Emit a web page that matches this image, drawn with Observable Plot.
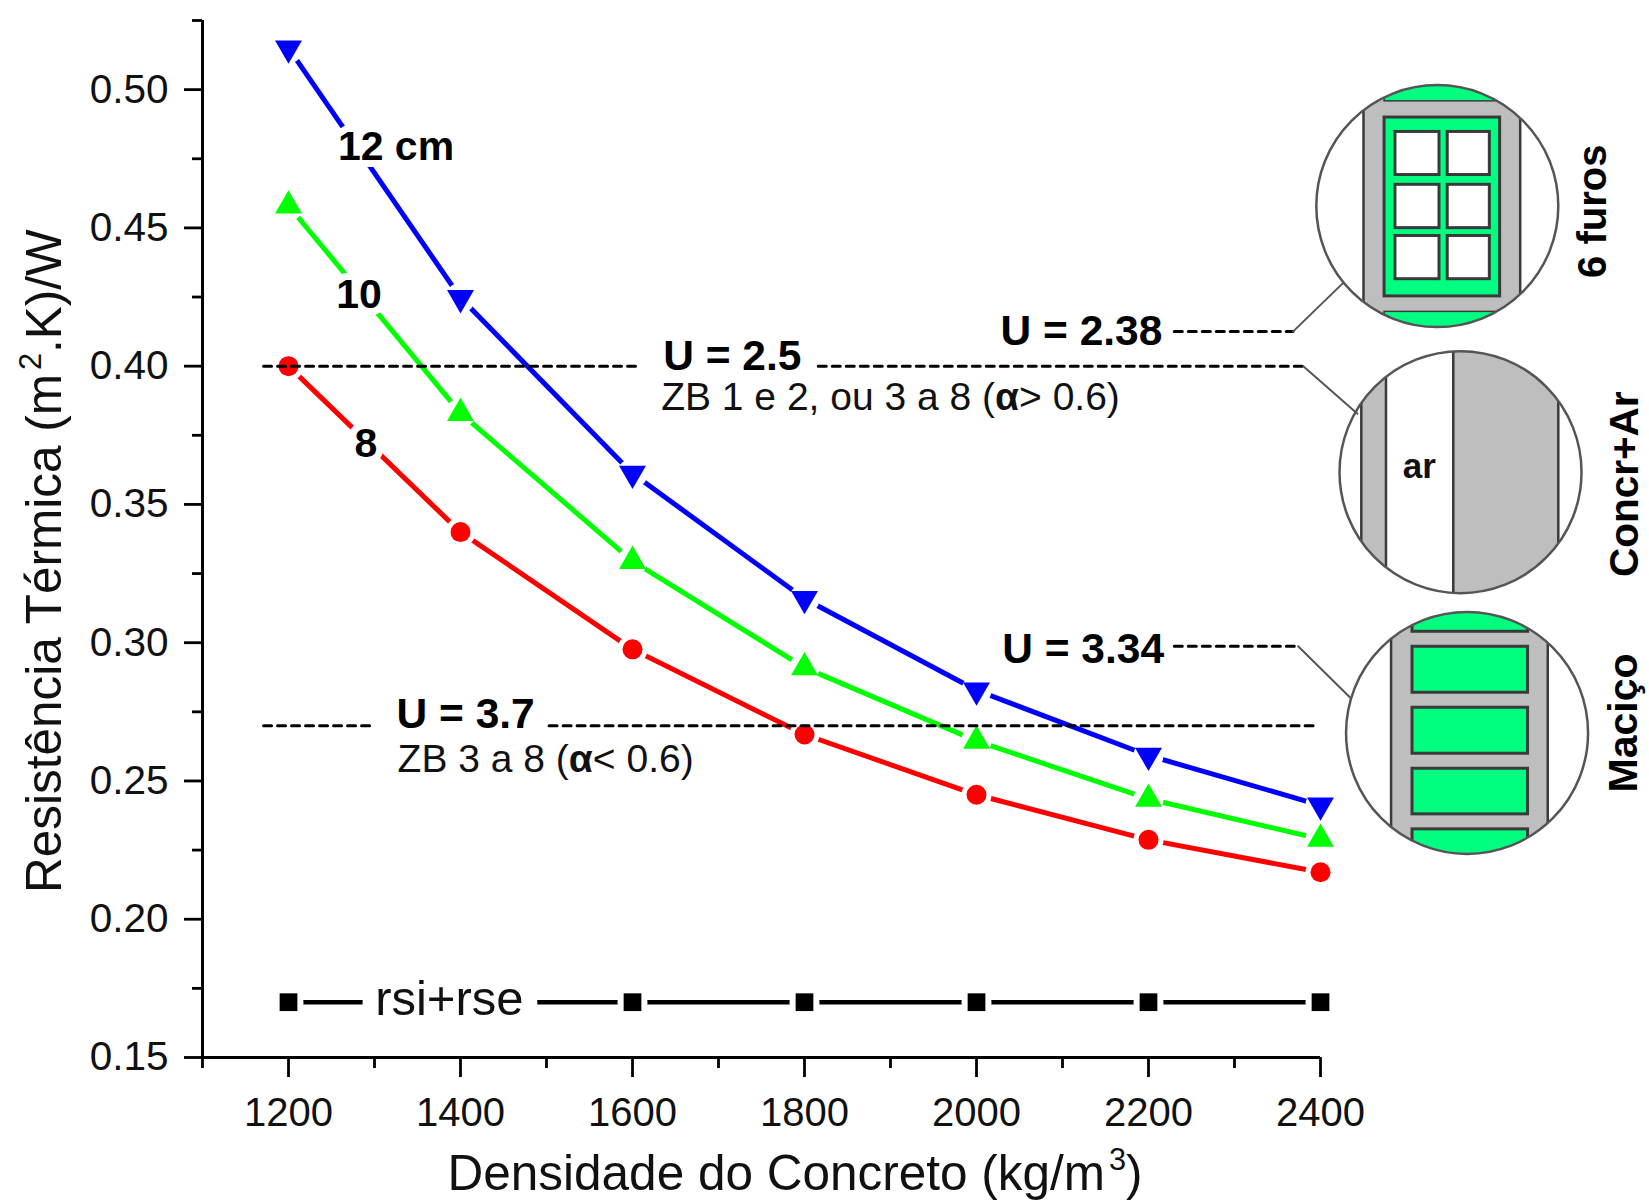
<!DOCTYPE html>
<html><head><meta charset="utf-8">
<script src="https://cdn.jsdelivr.net/npm/d3@7"></script>
<script src="https://cdn.jsdelivr.net/npm/@observablehq/plot@0.6"></script>
<style>html,body{margin:0;padding:0;background:#fff}svg{display:block}</style>
</head><body><div id="chart"></div>
<script>
const density = [1200,1400,1600,1800,2000,2200,2400];
const wall12 = [0.515,0.4247,0.3612,0.3159,0.2828,0.2592,0.2412];
const wall10 = [0.458,0.383,0.3295,0.291,0.2645,0.2435,0.229];
const wall8  = [0.400,0.340,0.2976,0.2668,0.245,0.2287,0.217];
const rsiDensity = [1200,1600,1800,2000,2200,2400];
const rsiValues  = [0.17,0.17,0.17,0.17,0.17,0.17];
const xMajor = [1200,1400,1600,1800,2000,2200,2400];
const xMinor = [1100,1300,1500,1700,1900,2100,2300];
const yMajor = [0.15,0.20,0.25,0.30,0.35,0.40,0.45,0.50];
const yMinor = [0.175,0.225,0.275,0.325,0.375,0.425,0.475,0.525];
const dashed = [
  [[1171,0.40],[1608,0.40]], [[1816,0.40],[2380,0.40]],
  [[1171,0.27],[1299,0.27]], [[1503,0.27],[2393,0.27]],
  [[2230,0.4125],[2368,0.4125]], [[2230,0.2987],[2374,0.2987]]
];
const leaders = [
  [[2368,0.4125],[2427,0.4303]], [[2380,0.40],[2443,0.3828]], [[2374,0.2987],[2435,0.28]]
];
const boldLabels = [
  {x:1325,y:0.4794,t:"12 cm"},{x:1282,y:0.4258,t:"10"},{x:1290,y:0.372,t:"8"}
];
const uLabels = [
  {x:1716,y:0.4037,t:"U = 2.5"},{x:1406,y:0.274,t:"U = 3.7"},
  {x:2122,y:0.4125,t:"U = 2.38"},{x:2124,y:0.2976,t:"U = 3.34"}
];
const zbLabels = [
  {x:1900,y:0.3885,t:"ZB 1 e 2, ou 3 a 8 (α> 0.6)"},
  {x:1499,y:0.2576,t:"ZB 3 a 8 (α< 0.6)"}
];
const sideLabels = [
  {x:2717,y:0.456,t:"6 furos",s:40},{x:2754,y:0.3573,t:"Concr+Ar",s:40.5},{x:2753,y:0.271,t:"Maciço",s:41}
];
const grey = "#bebebe", spring = "#00ff80", edge = "#3a3a3a";
const insets = [
  {id:"a",x:2536.4,y:0.4577,r:121},
  {id:"b",x:2563.4,y:0.3615,r:121},
  {id:"c",x:2571,y:0.2672,r:121}
];

const triDown = {draw(c,s){const y=Math.sqrt(s/(Math.sqrt(3)*3));c.moveTo(0,2*y);c.lineTo(-Math.sqrt(3)*y,-y);c.lineTo(Math.sqrt(3)*y,-y);c.closePath();}};
const rows = (xs,ys)=>xs.map((x,i)=>({x,y:ys[i]}));
const s12=rows(density,wall12), s10=rows(density,wall10), s8=rows(density,wall8), sRsi=rows(rsiDensity,rsiValues);
const pair = d=>d.map(([x,y])=>({x,y}));
const series=(data,color)=>[
  Plot.line(data,{x:"x",y:"y",stroke:color,strokeWidth:5}),
  Plot.dot(data,{x:"x",y:"y",r:15,fill:"white",stroke:null})
];
function drawInsets(index,{x,y}){
  const g=d3.create("svg:g");
  const rect=(s,x0,x1,y0,y1,fill,sw=2.5)=>s.append("rect").attr("x",x0).attr("width",x1-x0).attr("y",y0).attr("height",y1-y0).attr("fill",fill).attr("stroke",edge).attr("stroke-width",sw);
  for(const c of insets){
    const cx=x(c.x),cy=y(c.y),r=c.r;
    g.append("clipPath").attr("id","clip-"+c.id).append("circle").attr("cx",cx).attr("cy",cy).attr("r",r);
    const s=g.append("g").attr("clip-path",`url(#clip-${c.id})`);
    const X=f=>cx+f*r, Y=f=>cy+f*r;
    s.append("rect").attr("x",cx-r).attr("y",cy-r).attr("width",2*r).attr("height",2*r).attr("fill","white");
    if(c.id==="a"){
      rect(s,X(-.61),X(.685),Y(-1.05),Y(1.05),grey);
      rect(s,X(-.44),X(.5),Y(-1.05),Y(-.87),spring,1.5);
      rect(s,X(-.44),X(.5),Y(.87),Y(1.05),spring,1.5);
      rect(s,X(-.44),X(.515),Y(-.736),Y(.742),spring,3);
      for(const [a,b] of [[-.617,-.261],[-.18,.178],[.243,.6]])
        for(const [l,m] of [[-.35,.014],[.082,.43]]) rect(s,X(l),X(m),Y(a),Y(b),"white",3);
    } else if(c.id==="b"){
      rect(s,X(-.82),X(-.616),Y(-1.05),Y(1.05),grey);
      rect(s,X(-.06),X(.808),Y(-1.05),Y(1.05),grey);
      s.append("text").attr("x",X(-.34)).attr("y",Y(-.05)).attr("dy","0.35em").attr("text-anchor","middle")
        .attr("font-size",35).attr("font-weight","bold").attr("fill","#111").text("ar");
    } else {
      rect(s,X(-.628),X(.667),Y(-1.05),Y(1.05),grey);
      for(const [a,b] of [[-1.05,-.84],[-.716,-.336],[-.212,.168],[.292,.669],[.793,1.05]])
        rect(s,X(-.455),X(.5),Y(a),Y(b),spring,3);
    }
    g.append("circle").attr("cx",cx).attr("cy",cy).attr("r",r).attr("fill","none").attr("stroke","#555").attr("stroke-width",2.5);
  }
  return g.node();
}
const ink="#111";
const plot = Plot.plot({
  width:1649,height:1201,marginLeft:202,marginRight:329,marginTop:20,marginBottom:144,
  style:{fontFamily:"'Liberation Sans',Arial,sans-serif",background:"white",color:ink,overflow:"visible"},
  x:{domain:[1100,2400],axis:null},
  y:{domain:[0.15,0.525],axis:null},
  marks:[
    ...series(s8,"#ff0000"),
    ...series(s10,"#00ff00"),
    ...series(s12,"#0000ff"),
    Plot.line(sRsi,{x:"x",y:"y",stroke:"#000",strokeWidth:4.5}),
    Plot.dot(sRsi,{x:"x",y:"y",r:15,fill:"white",stroke:null}),
    Plot.dot(s8,{x:"x",y:"y",r:10,fill:"#ff0000",stroke:null}),
    Plot.dot(s10,{x:"x",y:"y",r:10,symbol:"triangle",fill:"#00ff00",stroke:null}),
    Plot.dot(s12,{x:"x",y:"y",r:10,symbol:triDown,fill:"#0000ff",stroke:null}),
    Plot.dot(sRsi,{x:"x",y:"y",r:10,symbol:"square",fill:"#000",stroke:null}),
    Plot.text(["rsi+rse"],{x:[1387],y:[0.171],text:d=>d,fontSize:49,fill:ink,stroke:"white",strokeWidth:32}),
    Plot.text(boldLabels,{x:"x",y:"y",text:"t",fontSize:41,fontWeight:"bold",fill:"#000",stroke:"white",strokeWidth:14}),
    ...dashed.map(d=>Plot.line(pair(d),{x:"x",y:"y",stroke:"#000",strokeWidth:3,strokeDasharray:"8 6"})),
    drawInsets,
    ...leaders.map(d=>Plot.line(pair(d),{x:"x",y:"y",stroke:"#555",strokeWidth:2})),
    Plot.text(uLabels,{x:"x",y:"y",text:"t",fontSize:42.5,fontWeight:"bold",fill:"#000"}),
    Plot.text(zbLabels,{x:"x",y:"y",text:"t",fontSize:39,fill:ink}),
    ...sideLabels.map(d=>Plot.text([d],{x:"x",y:"y",text:"t",fontSize:d.s,fontWeight:"bold",fill:"#000",rotate:-90})),
    Plot.ruleX([1100],{strokeWidth:3,stroke:"#000"}),
    Plot.ruleY([0.15],{strokeWidth:3,stroke:"#000"}),
    Plot.axisY(yMajor,{anchor:"left",tickSize:18,tickPadding:16,strokeWidth:2.8,stroke:"#000",fontSize:40.5,tickFormat:d3.format(".2f"),label:null,fill:ink}),
    Plot.axisY(yMinor,{anchor:"left",tickSize:10,strokeWidth:2.8,stroke:"#000",tickFormat:()=>"",label:null,fill:"none"}),
    Plot.axisX(xMajor,{anchor:"bottom",tickSize:20,tickPadding:20,strokeWidth:2.8,stroke:"#000",fontSize:40,tickFormat:d3.format("d"),label:null,fill:ink}),
    Plot.axisX(xMinor,{anchor:"bottom",tickSize:11,strokeWidth:2.8,stroke:"#000",tickFormat:()=>"",label:null,fill:"none"}),
    Plot.text(["Resistência Térmica (m^2.K)/W"],{x:[917],y:[0.3295],text:d=>d,rotate:-90,fontSize:49.5,fill:ink}),
    Plot.text(["Densidade do Concreto (kg/m^3)"],{x:[1789],y:[0.1078],text:d=>d,fontSize:49.5,fill:ink})
  ]
});
const titleSize=49.5;
d3.select(plot).selectAll("text").each(function(){
  const t=this.textContent;
  if(!t.trim()){ this.remove(); return; }
  if(!/\^|α/.test(t)||this.children.length) return;
  this.textContent="";
  const lift=Math.round(titleSize*.4);
  let pending=0;
  for(const part of t.split(/(\^\d|α)/)){
    if(!part) continue;
    const span=d3.select(this).append("tspan");
    if(part[0]==="^"){
      span.attr("dy",-lift).attr("font-size",titleSize*.62).attr("dx",titleSize*.08).text(part[1]);
      pending=lift;
    } else {
      if(pending){ span.attr("dy",pending); pending=0; }
      if(part==="α") span.attr("font-weight","bold");
      span.text(part);
    }
  }
});
document.getElementById("chart").append(plot);
</script></body></html>
